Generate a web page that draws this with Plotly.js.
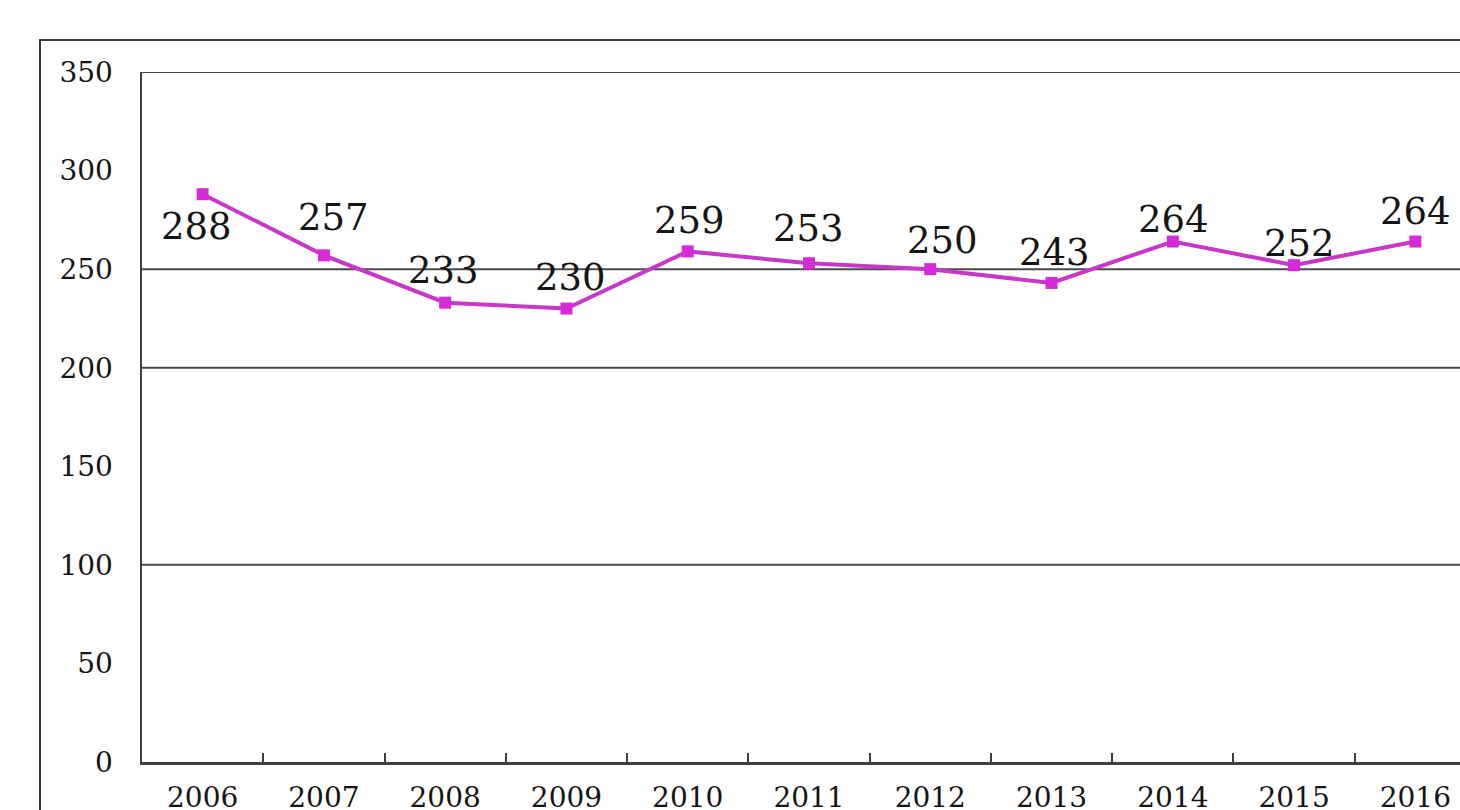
<!DOCTYPE html>
<html>
<head>
<meta charset="utf-8">
<script src="https://cdn.plot.ly/plotly-3.0.1.min.js"></script>
<style>
html,body{margin:0;padding:0;background:#fff;overflow:hidden;width:1460px;height:810px;}
#chart{position:absolute;left:0;top:0;}
#frame{position:absolute;left:39px;top:39px;width:1600px;height:1000px;border:2px solid #3a3a3a;pointer-events:none;box-sizing:border-box;}
</style>
</head>
<body>
<div id="chart"></div>
<div id="frame"></div>
<script>
// Data
const years = ['2006','2007','2008','2009','2010','2011','2012','2013','2014','2015','2016'];
const values = [288, 257, 233, 230, 259, 253, 250, 243, 264, 252, 264];
const yTicks = [0, 50, 100, 150, 200, 250, 300, 350];
const gridVals = [100, 200, 250, 350];

// Label placement (styling, in pixels)
const labelDy = [-32, 38, 32, 31, 31, 35, 29, 30, 22, 22, 30];
const labelDx = [-6, 10, -2, 4, 2, -1, 12, 3, 1, 5, 0];

const serif = 'DejaVu Serif, Liberation Serif, serif';

const trace = {
  x: years,
  y: values,
  type: 'scatter',
  mode: 'lines+markers',
  line: {color: '#C838C8', width: 4},
  marker: {symbol: 'square', size: 12, color: '#D62AD6'},
  hoverinfo: 'x+y',
  cliponaxis: false
};

const annotations = years.map((yr, i) => ({
  x: i, y: values[i], xref: 'x', yref: 'y',
  text: String(values[i]), showarrow: false,
  xanchor: 'center', yanchor: 'middle',
  xshift: labelDx[i], yshift: labelDy[i],
  font: {family: serif, size: 37, color: '#151515'}
}));

const shapes = gridVals.map(v => ({
  type: 'line', xref: 'paper', yref: 'y', x0: 0, x1: 1, y0: v, y1: v,
  line: {color: '#4a4a4a', width: 2}, layer: 'below'
}));

const layout = {
  width: 1500, height: 860,
  margin: {l: 142, r: 24, t: 72, b: 98},
  paper_bgcolor: 'rgba(0,0,0,0)',
  plot_bgcolor: '#ffffff',
  showlegend: false,
  font: {family: serif, color: '#151515'},
  xaxis: {
    type: 'category',
    categoryarray: years, categoryorder: 'array',
    range: [-0.5, years.length - 0.5],
    autorange: false,
    showgrid: false,
    showline: true, linecolor: '#3f3f3f', linewidth: 3,
    ticks: 'inside', tickson: 'boundaries', ticklen: 9, tickwidth: 2, tickcolor: '#3f3f3f',
    tickfont: {family: serif, size: 28, color: '#151515'},
    tickangle: 0,
    ticklabelstandoff: 8,
    zeroline: false, fixedrange: true
  },
  yaxis: {
    range: [0, 350],
    autorange: false,
    tickvals: yTicks,
    ticktext: yTicks.map(String),
    showgrid: false, zeroline: false,
    showline: true, linecolor: '#3f3f3f', linewidth: 2.5,
    ticks: '',
    tickfont: {family: serif, size: 28, color: '#151515'},
    ticklabelstandoff: 21,
    fixedrange: true
  },
  shapes: shapes,
  annotations: annotations
};

Plotly.newPlot('chart', [trace], layout, {displayModeBar: false, staticPlot: true});
</script>
</body>
</html>
